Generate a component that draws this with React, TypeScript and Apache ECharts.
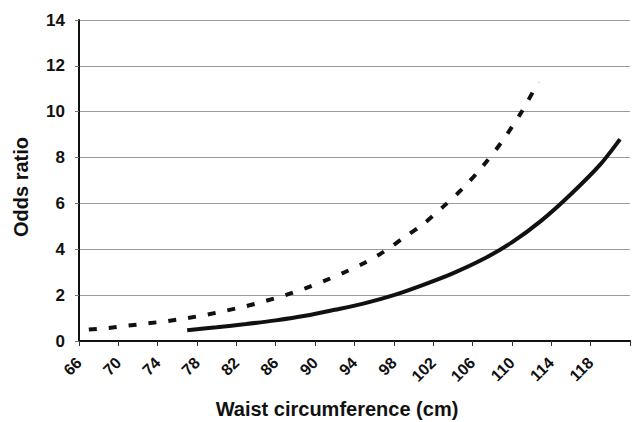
import React, { useEffect, useRef } from "react";
import * as echarts from "echarts";

const xTicks = [66, 70, 74, 78, 82, 86, 90, 94, 98, 102, 106, 110, 114, 118];
const yTicks = [0, 2, 4, 6, 8, 10, 12, 14];

const dashedX = [67, 69, 71, 73, 75, 77, 79, 81, 83, 85, 87, 89, 91, 93, 95, 97, 99, 101, 103, 105, 107, 109, 111, 112.7];
const dashedY = [0.5, 0.57, 0.67, 0.77, 0.87, 1.0, 1.15, 1.33, 1.52, 1.75, 2.0, 2.3, 2.63, 3.0, 3.4, 3.9, 4.5, 5.1, 5.85, 6.65, 7.6, 8.7, 10.0, 11.3];

const solidX = [77, 80, 83, 86, 89, 92, 95, 98, 101, 104, 107, 110, 113, 116, 119, 121];
const solidY = [0.47, 0.6, 0.74, 0.9, 1.1, 1.36, 1.64, 2.0, 2.45, 2.95, 3.55, 4.3, 5.25, 6.4, 7.7, 8.8];

const xTitle = "Waist circumference (cm)";
const yTitle = "Odds ratio";

export default function App() {
  const ref = useRef<HTMLDivElement>(null);
  useEffect(() => {
    if (!ref.current) return;
    const chart = echarts.init(ref.current, undefined, { renderer: "svg" });
    const font = "'Liberation Sans', Arial, sans-serif";
    chart.setOption({
      animation: false,
      backgroundColor: "#ffffff",
      grid: { left: 79, right: 0, top: 20, bottom: 81, containLabel: false },
      xAxis: [
        {
          type: "value",
          min: 66,
          max: 122,
          interval: 4,
          position: "bottom",
          axisLine: { show: true, onZero: false, lineStyle: { color: "#111", width: 2 } },
          axisTick: { show: true, length: 5, lineStyle: { color: "#333", width: 1 } },
          splitLine: { show: false },
          axisLabel: {
            rotate: 45,
            margin: 19,
            color: "#111",
            fontFamily: font,
            fontWeight: "bold",
            fontSize: 16,
            formatter: (v: number) => (xTicks.indexOf(v) >= 0 ? String(v) : ""),
          },
        },
        {
          type: "value",
          min: 66,
          max: 122,
          position: "top",
          axisLine: { show: true, lineStyle: { color: "#111", width: 2 } },
          axisTick: { show: false },
          axisLabel: { show: false },
          splitLine: { show: false },
        },
      ],
      yAxis: {
        type: "value",
        min: 0,
        max: 14,
        interval: 2,
        axisLine: { show: true, lineStyle: { color: "#111", width: 2 } },
        axisTick: { show: true, length: 4, lineStyle: { color: "#777", width: 1 } },
        splitLine: { show: true, lineStyle: { color: "#9a9a9a", width: 1 } },
        axisLabel: {
          margin: 14,
          color: "#111",
          fontFamily: font,
          fontWeight: "bold",
          fontSize: 17,
          formatter: (v: number) => (yTicks.indexOf(v) >= 0 ? String(v) : ""),
        },
      },
      series: [
        {
          type: "line",
          name: "dashed",
          data: dashedX.map((x, i) => [x, dashedY[i]]),
          smooth: 0.3,
          showSymbol: false,
          lineStyle: { color: "#111", width: 4, type: [8, 12] },
        },
        {
          type: "line",
          name: "solid",
          data: solidX.map((x, i) => [x, solidY[i]]),
          smooth: 0.3,
          showSymbol: false,
          lineStyle: { color: "#111", width: 4 },
        },
      ],
      graphic: [
        {
          type: "text",
          x: 337,
          y: 409,
          style: {
            text: xTitle,
            fill: "#111",
            font: `bold 20px ${font}`,
            align: "center",
            verticalAlign: "middle",
          },
        },
        {
          type: "text",
          x: 21,
          y: 187,
          rotation: Math.PI / 2,
          style: {
            text: yTitle,
            fill: "#111",
            font: `bold 20px ${font}`,
            align: "center",
            verticalAlign: "middle",
          },
        },
      ],
    });
    return () => chart.dispose();
  }, []);
  return (
    <div
      ref={ref}
      style={{ position: "fixed", left: 0, top: 0, width: 632, height: 422 }}
    />
  );
}
